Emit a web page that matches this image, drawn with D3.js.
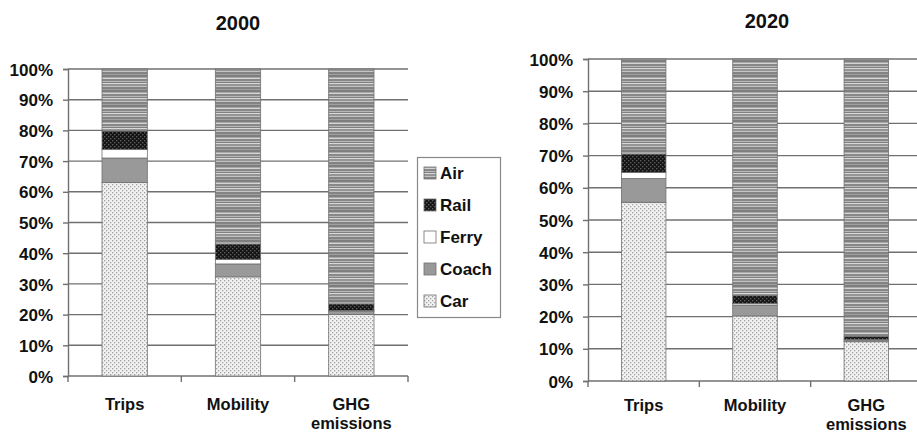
<!DOCTYPE html>
<html><head><meta charset="utf-8">
<script src="https://cdn.jsdelivr.net/npm/d3@7"></script>
<style>body{margin:0;background:#fff}svg{display:block}text{font-family:"Liberation Sans",Arial,sans-serif;font-weight:bold;fill:#111}</style>
</head><body>
<svg id="c" width="917" height="435"></svg>
<script>
const categories = ["Trips", "Mobility", "GHG emissions"];
const modes = ["Car", "Coach", "Ferry", "Rail", "Air"];
const legendOrder = ["Air", "Rail", "Ferry", "Coach", "Car"];
const yTicks = [0, 10, 20, 30, 40, 50, 60, 70, 80, 90, 100];
const years = ["2000", "2020"];
// shares (%) per category: Trips, Mobility, GHG emissions
const car2000   = [63.0, 32.3, 20.0];
const coach2000 = [8.0, 4.2, 1.0];
const ferry2000 = [2.8, 1.5, 0.3];
const rail2000  = [6.0, 5.0, 2.2];
const air2000   = [20.2, 57.0, 76.5];
const car2020   = [55.5, 20.2, 12.2];
const coach2020 = [7.4, 3.4, 0.5];
const ferry2020 = [1.9, 0.5, 0.2];
const rail2020  = [5.7, 2.4, 1.0];
const air2020   = [29.5, 73.5, 86.1];

const series = {
  "2000": {Car: car2000, Coach: coach2000, Ferry: ferry2000, Rail: rail2000, Air: air2000},
  "2020": {Car: car2020, Coach: coach2020, Ferry: ferry2020, Rail: rail2020, Air: air2020}
};

const svg = d3.select("#c");
const defs = svg.append("defs");

// Air: irregular horizontal gray stripes
const air = defs.append("pattern").attr("id", "p-Air").attr("patternUnits", "userSpaceOnUse")
  .attr("width", 8).attr("height", 15);
const airStripes = [["#7e7e7e",2],["#a8a8a8",1],["#d4d4d4",1],["#888",2],["#b8b8b8",1],["#808080",1],["#d8d8d8",1],["#959595",2],["#c4c4c4",1],["#838383",2],["#a0a0a0",1]];
let yy = 0;
airStripes.forEach(([c,h]) => { air.append("rect").attr("x",0).attr("y",yy).attr("width",8).attr("height",h).attr("fill",c); yy += h; });

// Rail: black with dark gray dots
const rail = defs.append("pattern").attr("id", "p-Rail").attr("patternUnits", "userSpaceOnUse")
  .attr("width", 4).attr("height", 4);
rail.append("rect").attr("width",4).attr("height",4).attr("fill","#141414");
rail.append("rect").attr("x",0).attr("y",0).attr("width",1.4).attr("height",1.4).attr("fill","#5a5a5a");
rail.append("rect").attr("x",2).attr("y",2).attr("width",1.4).attr("height",1.4).attr("fill","#5a5a5a");

// Car: light background with gray dots
const car = defs.append("pattern").attr("id", "p-Car").attr("patternUnits", "userSpaceOnUse")
  .attr("width", 4).attr("height", 4);
car.append("rect").attr("width",4).attr("height",4).attr("fill","#f2f2f2");
car.append("rect").attr("x",0).attr("y",0).attr("width",1.3).attr("height",1.3).attr("fill","#a0a0a0");
car.append("rect").attr("x",2).attr("y",2).attr("width",1.3).attr("height",1.3).attr("fill","#a0a0a0");

const fills = {Air: "url(#p-Air)", Rail: "url(#p-Rail)", Ferry: "#ffffff", Coach: "#999999", Car: "url(#p-Car)"};

const panels = [
  {year: "2000", x0: 68, x1: 408, y0: 69, y1: 376, titleX: 238, titleY: 30, catY: 410},
  {year: "2020", x0: 588, x1: 922, y0: 59, y1: 381, titleX: 767, titleY: 28, catY: 411}
];

panels.forEach(p => {
  const g = svg.append("g");
  const x = d3.scaleBand().domain(categories).range([p.x0, p.x1]).paddingInner(0.6).paddingOuter(0.3);
  const xb = d3.scaleBand().domain(categories).range([p.x0, p.x1]).padding(0);
  const y = d3.scaleLinear().domain([0, 100]).range([p.y1, p.y0]);

  // gridlines
  g.append("g").selectAll("line").data(yTicks.filter(t => t > 0)).join("line")
    .attr("x1", p.x0).attr("x2", p.x1).attr("y1", d => y(d)).attr("y2", d => y(d))
    .attr("stroke", "#707070").attr("stroke-width", 1.4);

  // y axis
  const ya = g.append("g").attr("transform", `translate(${p.x0},0)`)
    .call(d3.axisLeft(y).tickValues(yTicks).tickFormat(d => d + "%").tickSize(5).tickPadding(10));
  ya.select(".domain").attr("stroke", "#707070").attr("stroke-width", 1.4);
  ya.selectAll(".tick line").attr("stroke", "#707070").attr("stroke-width", 1.4);
  ya.selectAll("text").style("font-family", '"Liberation Sans",Arial,sans-serif').style("font-weight", "bold")
    .style("font-size", "17px").attr("fill", "#111").attr("dy", "0.36em");

  // x axis baseline and ticks at band boundaries
  g.append("line").attr("x1", p.x0).attr("x2", p.x1).attr("y1", y(0)).attr("y2", y(0))
    .attr("stroke", "#707070").attr("stroke-width", 1.4);
  const bounds = categories.map(c => xb(c)).concat([xb(categories[2]) + xb.bandwidth()]);
  g.append("g").selectAll("line").data(bounds).join("line")
    .attr("x1", d => d).attr("x2", d => d).attr("y1", y(0)).attr("y2", y(0) + 6)
    .attr("stroke", "#707070").attr("stroke-width", 1.4);

  // stacked bars
  const rows = categories.map((c, i) => {
    const r = {cat: c};
    modes.forEach(m => r[m] = series[p.year][m][i]);
    return r;
  });
  const stacked = d3.stack().keys(modes)(rows);
  stacked.forEach(s => {
    g.append("g").selectAll("rect").data(s).join("rect")
      .attr("x", d => x(d.data.cat)).attr("width", x.bandwidth())
      .attr("y", d => y(d[1])).attr("height", d => y(d[0]) - y(d[1]))
      .attr("fill", fills[s.key]).attr("stroke", "#707070").attr("stroke-width", 0.8);
  });

  // category labels
  categories.forEach(c => {
    const words = c === "GHG emissions" ? ["GHG", "emissions"] : [c];
    const t = g.append("text").attr("text-anchor", "middle").style("font-size", "16.5px")
      .attr("x", x(c) + x.bandwidth() / 2).attr("y", p.catY);
    words.forEach((w, i) => t.append("tspan").attr("x", x(c) + x.bandwidth() / 2).attr("dy", i === 0 ? 0 : 19).text(w));
  });

  // title
  g.append("text").attr("x", p.titleX).attr("y", p.titleY).attr("text-anchor", "middle")
    .style("font-size", "20px").text(p.year);
});

// legend
const lg = svg.append("g");
lg.append("rect").attr("x", 417.5).attr("y", 157.5).attr("width", 83).attr("height", 160)
  .attr("fill", "#fff").attr("stroke", "#888").attr("stroke-width", 1.2);
const ly = d3.scalePoint().domain(legendOrder).range([173, 301]);
legendOrder.forEach(m => {
  lg.append("rect").attr("x", 424).attr("y", ly(m) - 6).attr("width", 12).attr("height", 12)
    .attr("fill", fills[m]).attr("stroke", "#707070").attr("stroke-width", 0.8);
  lg.append("text").attr("x", 440).attr("y", ly(m)).attr("dy", "0.36em").style("font-size", "17px").text(m);
});
</script>
</body></html>
